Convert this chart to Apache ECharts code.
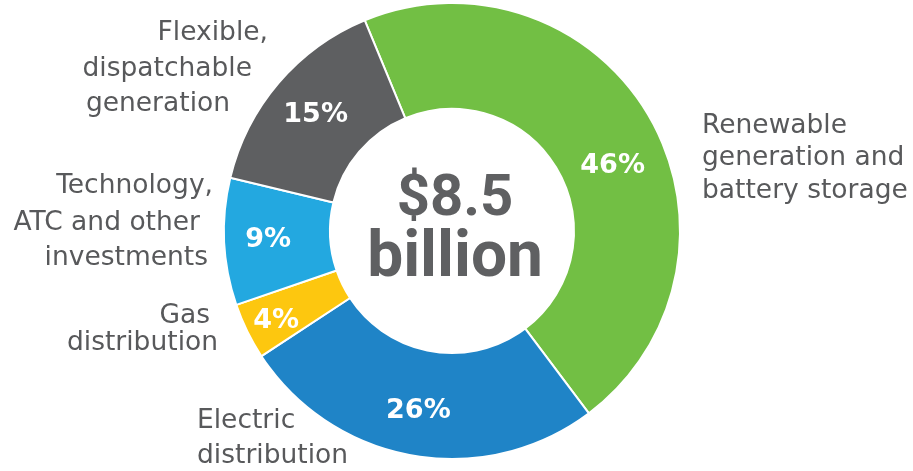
<!DOCTYPE html>
<html>
<head>
<meta charset="utf-8">
<style>
  html, body { margin: 0; padding: 0; background: #ffffff; }
  #chart { width: 913px; height: 471px; }
</style>
<script src="https://cdn.jsdelivr.net/npm/echarts@6/dist/echarts.min.js"></script>
</head>
<body>
<div id="chart"></div>
<script>
// Capital plan split by investment area (percent of total)
const categories = [
  'Renewable generation and battery storage',
  'Electric distribution',
  'Gas distribution',
  'Technology, ATC and other investments',
  'Flexible, dispatchable generation'
];
const shares = [46, 26, 4, 9, 15];
const sliceColors = ['#72bf44', '#1f84c7', '#fdc70f', '#23a8e0', '#5e5f61'];

// Line breaks used for each category's caption
const captionLines = [
  ['Renewable', 'generation and', 'battery storage'],
  ['Electric', 'distribution'],
  ['Gas', 'distribution'],
  ['Technology,', 'ATC and other', 'investments'],
  ['Flexible,', 'dispatchable', 'generation']
];
const totalLines = ['$8.5', 'billion'];

// Caption placement: per line [x, y, align]
const captionPlacement = [
  [[702, 126, 'left'], [702, 158, 'left'], [702, 191, 'left']],
  [[197, 421, 'left'], [197, 456, 'left']],
  [[210, 316, 'right'], [218, 343, 'right']],
  [[213, 186, 'right'], [200, 223, 'right'], [208, 258, 'right']],
  [[268, 33, 'right'], [252, 69, 'right'], [230, 104, 'right']]
];
// Small nudges of the percentage labels inside the ring
const pctNudge = [[6, 23], [-3, 5], [-16, 12], [-6, 1], [-1, 0]];

const chart = echarts.init(document.getElementById('chart'), null, { renderer: 'canvas' });

const captionGraphics = [];
captionLines.forEach((lines, i) => {
  lines.forEach((line, j) => {
    const p = captionPlacement[i][j];
    captionGraphics.push({
      type: 'text',
      x: p[0],
      y: p[1],
      style: {
        text: line,
        fill: '#58595b',
        font: '26.5px "DejaVu Sans"',
        align: p[2],
        verticalAlign: 'middle'
      },
      silent: true
    });
  });
});

captionGraphics.push({
  type: 'text',
  x: 455,
  y: 200,
  style: {
    text: totalLines[0],
    fill: '#5f6062',
    font: 'bold 58px Roboto',
    align: 'center',
    verticalAlign: 'middle'
  },
  silent: true
});
captionGraphics.push({
  type: 'text',
  x: 455,
  y: 260,
  style: {
    text: totalLines[1],
    fill: '#5f6062',
    font: 'bold 64px Roboto',
    align: 'center',
    verticalAlign: 'middle'
  },
  silent: true
});

chart.setOption({
  animation: false,
  backgroundColor: '#ffffff',
  series: [{
    type: 'pie',
    center: [452, 231],
    radius: [122, 228],
    startAngle: 112.5,
    clockwise: true,
    avoidLabelOverlap: false,
    itemStyle: { borderColor: '#ffffff', borderWidth: 2 },
    label: {
      show: true,
      position: 'inside',
      formatter: '{c}%',
      color: '#ffffff',
      fontFamily: 'DejaVu Sans',
      fontWeight: 'bold',
      fontSize: 27
    },
    labelLine: { show: false },
    labelLayout: function (params) {
      const n = pctNudge[params.dataIndex];
      return { dx: n[0], dy: n[1] };
    },
    emphasis: { disabled: true },
    data: categories.map((name, i) => ({
      name: name,
      value: shares[i],
      itemStyle: { color: sliceColors[i] }
    }))
  }],
  graphic: captionGraphics
});
</script>
</body>
</html>
